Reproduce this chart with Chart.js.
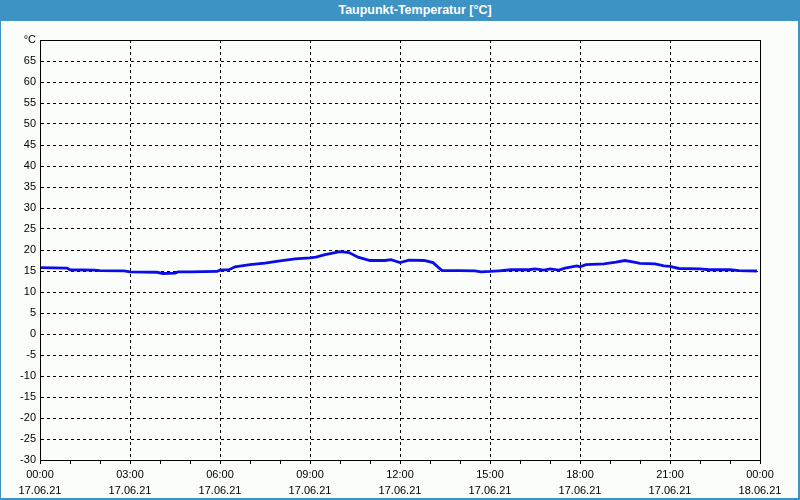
<!DOCTYPE html>
<html>
<head>
<meta charset="utf-8">
<script src="https://cdn.jsdelivr.net/npm/chart.js@4"></script>
<style>
  html, body { margin: 0; padding: 0; background: #fbfdfb; }
  #wrap { position: relative; width: 800px; height: 500px; overflow: hidden; }
  #frame {
    position: absolute; left: 0; top: 0; width: 800px; height: 500px;
    box-sizing: border-box; border-left: 1px solid #3d93c4; border-right: 2px solid #3d93c4;
    border-bottom: 2px solid #3d93c4; pointer-events: none; z-index: 2;
  }
  #titel {
    position: absolute; left: 0; top: 0; width: 800px; height: 21px; box-sizing: border-box;
    background: #3d93c4; color: #fff; font: bold 12.5px "Liberation Sans", Arial, sans-serif;
    line-height: 21px; text-align: center; padding-left: 30px; z-index: 3;
  }
  canvas { position: absolute; left: 0; top: 0; }
</style>
</head>
<body>
<div id="wrap">
  <canvas id="grafik" width="800" height="500"></canvas>
  <div id="titel">Taupunkt-Temperatur [°C]</div>
  <div id="frame"></div>
</div>
<script>
// Stunden seit 17.06.21 00:00
const stunden = [0, 0.9, 1, 1.8, 2, 2.8, 3, 3.9, 4.1, 4.5, 4.6, 5, 5.9, 6.0, 6.3, 6.5, 7, 7.5, 8, 8.5,
  9, 9.2, 9.5, 10, 10.3, 10.6, 11, 11.5, 11.7, 12, 12.3, 12.8, 13.1, 13.4, 14, 14.5, 14.7, 15, 15.3, 15.7,
  16.3, 16.5, 16.8, 17, 17.3, 17.5, 17.9, 18.0, 18.2, 18.8, 19.2, 19.5, 19.8, 20, 20.5, 20.8, 21, 21.3,
  22, 22.3, 23, 23.3, 23.9];
const taupunkt = [15.8, 15.7, 15.3, 15.2, 15.1, 15.05, 14.8, 14.7, 14.4, 14.5, 14.8, 14.8, 14.9, 15.2, 15.3, 16.0, 16.5, 16.9, 17.4, 17.9,
  18.1, 18.3, 18.9, 19.6, 19.4, 18.3, 17.5, 17.5, 17.7, 17.0, 17.6, 17.5, 17.0, 15.1, 15.1, 15.05, 14.8, 14.9, 15.05, 15.3,
  15.3, 15.5, 15.2, 15.5, 15.2, 15.7, 16.2, 16.0, 16.5, 16.7, 17.1, 17.5, 17.1, 16.8, 16.7, 16.2, 16.1, 15.6,
  15.5, 15.3, 15.3, 15.1, 15.0];

const zeitLabels = ['00:00', '03:00', '06:00', '09:00', '12:00', '15:00', '18:00', '21:00', '00:00'];
const datumLabels = ['17.06.21', '17.06.21', '17.06.21', '17.06.21', '17.06.21', '17.06.21', '17.06.21', '17.06.21', '18.06.21'];

const punkte = stunden.map((h, i) => ({ x: h, y: taupunkt[i] }));

// Rahmen um den Plotbereich
const rahmen = {
  id: 'rahmen',
  afterDraw(chart) {
    const a = chart.chartArea;
    const c = chart.ctx;
    c.save();
    c.strokeStyle = '#000';
    c.lineWidth = 1;
    c.strokeRect(a.left + 0.5, a.top + 0.5, a.right - a.left, a.bottom - a.top);
    c.restore();
  }
};

Chart.defaults.font.family = '"Liberation Sans", Arial, sans-serif';
Chart.defaults.font.size = 11;
Chart.defaults.color = '#000';

const ctx = document.getElementById('grafik');
let chart = new Chart(ctx, {
  type: 'line',
  data: {
    datasets: [{
      label: 'Taupunkt',
      data: punkte,
      borderColor: '#0c0ce8',
      borderWidth: 2.8,
      pointRadius: 0,
      tension: 0,
      fill: false
    }]
  },
  options: {
    responsive: false,
    animation: false,
    layout: { padding: { top: 40, right: 40, left: 0, bottom: 0 } },
    plugins: { legend: { display: false }, tooltip: { enabled: false }, title: { display: false } },
    scales: {
      x: {
        type: 'linear',
        min: 0,
        max: 24,
        afterFit: s => { s.height = 40; },
        afterBuildTicks: s => { s.ticks = Array.from({ length: 25 }, (_, i) => ({ value: i })); },
        ticks: {
          autoSkip: false,
          maxRotation: 0,
          padding: 3,
          font: { lineHeight: 1.45 },
          callback: v => (v % 3 === 0 ? [zeitLabels[v / 3], datumLabels[v / 3]] : '')
        },
        grid: {
          color: c => (c.tick && c.tick.value % 3 === 0 ? '#000' : 'rgba(0,0,0,0)'),
          tickColor: '#000',
          tickLength: 4,
          lineWidth: 1
        },
        border: { color: '#000', dash: [3, 3] }
      },
      y: {
        min: -30,
        max: 70,
        afterFit: s => { s.width = 40; },
        ticks: {
          stepSize: 5,
          padding: 4,
          callback: v => (v === 70 ? '°C' : v)
        },
        grid: { color: '#000', drawTicks: false, lineWidth: 1 },
        border: { color: '#000', dash: [3, 3] }
      }
    }
  },
  plugins: [rahmen]
});
</script>
</body>
</html>
